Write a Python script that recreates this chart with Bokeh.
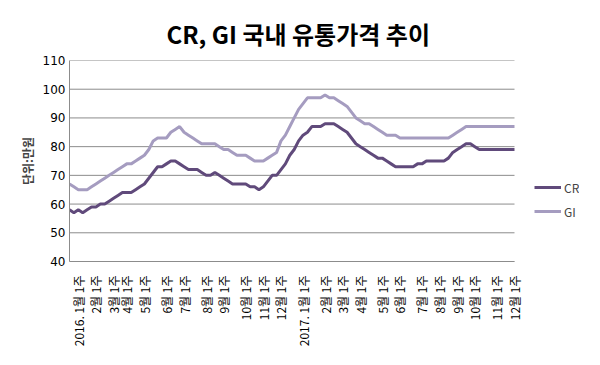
import math
from bokeh.plotting import figure
from bokeh.models import Range1d, FixedTicker, Legend, LegendItem
from bokeh.embed import file_html
from bokeh.resources import INLINE

# weekly data (index 0 = late Dec 2015 ... 101 = Dec 2017 wk1)
cr = [58, 57, 58, 57, 58, 59, 59, 60, 60, 61, 62, 63, 64, 64, 64, 65, 66, 67, 69, 71,
      73, 73, 74, 75, 75, 74, 73, 72, 72, 72, 71, 70, 70, 71, 70, 69, 68, 67, 67, 67,
      67, 66, 66, 65, 66, 68, 70, 70, 72, 74, 77, 79, 82, 84, 85, 87, 87, 87, 88, 88,
      88, 87, 86, 85, 83, 81, 80, 79, 78, 77, 76, 76, 75, 74, 73, 73, 73, 73, 73, 74,
      74, 75, 75, 75, 75, 75, 76, 78, 79, 80, 81, 81, 80, 79, 79, 79, 79, 79, 79, 79,
      79, 79]
gi = [67, 66, 65, 65, 65, 66, 67, 68, 69, 70, 71, 72, 73, 74, 74, 75, 76, 77, 79, 82,
      83, 83, 83, 85, 86, 87, 85, 84, 83, 82, 81, 81, 81, 81, 80, 79, 79, 78, 77, 77,
      77, 76, 75, 75, 75, 76, 77, 78, 82, 84, 87, 90, 93, 95, 97, 97, 97, 97, 98, 97,
      97, 96, 95, 94, 92, 90, 89, 88, 88, 87, 86, 85, 84, 84, 84, 83, 83, 83, 83, 83,
      83, 83, 83, 83, 83, 83, 83, 84, 85, 86, 87, 87, 87, 87, 87, 87, 87, 87, 87, 87,
      87, 87]
weeks = list(range(len(cr)))

tick_pos = [2, 6, 10, 13, 17, 22, 26, 31, 35, 40, 44, 48,
            53, 58, 62, 66, 71, 75, 80, 84, 88, 92, 97, 101]
tick_labels = ["2016. 1월 1주", "2월 1주", "3월 1주", "4월 1주", "5월 1주", "6월 1주",
               "7월 1주", "8월 1주", "9월 1주", "10월 1주", "11월 1주", "12월 1주",
               "2017. 1월 1주", "2월 1주", "3월 1주", "4월 1주", "5월 1주", "6월 1주",
               "7월 1주", "8월 1주", "9월 1주", "10월 1주", "11월 1주", "12월 1주"]
y_ticks = [40, 50, 60, 70, 80, 90, 100, 110]

FONT = "Noto Sans CJK KR"

# layout (pixels): plot area for the data, plus extra room on the right for the legend
W, H = 584, 349
LEFT, TOP, BOTTOM, RIGHT_PAD = 69, 60, 87, 5
DATA_W = 445
frame_w = W - LEFT - RIGHT_PAD
x_end = weeks[-1] * frame_w / DATA_W

p = figure(width=W, height=H, output_backend="svg", toolbar_location=None,
           x_range=Range1d(weeks[0], x_end), y_range=Range1d(y_ticks[0], y_ticks[-1]),
           min_border_left=LEFT, min_border_right=RIGHT_PAD, min_border_top=TOP,
           min_border_bottom=BOTTOM, title="CR, GI 국내 유통가격 추이")

p.title.align = "left"
p.title.offset = 97
p.title.standoff = 20
p.title.text_font = FONT
p.title.text_font_size = "24px"
p.title.text_font_style = "bold"
p.title.text_color = "#000000"

p.outline_line_color = None
p.xgrid.visible = False
p.ygrid.visible = False
p.segment(x0=weeks[0], x1=weeks[-1], y0=y_ticks, y1=y_ticks,
          line_color="#8c8c8c", line_width=1, level="underlay")

p.yaxis.ticker = FixedTicker(ticks=y_ticks)
p.yaxis.axis_label = "단위:만원"
p.yaxis.axis_label_text_font = FONT
p.yaxis.axis_label_text_font_style = "bold"
p.yaxis.axis_label_text_font_size = "12px"
p.yaxis.axis_label_standoff = 4
p.yaxis.major_label_text_font = "DejaVu Sans"
p.yaxis.major_label_text_font_size = "12px"
p.yaxis.major_label_standoff = 4

p.xaxis.ticker = FixedTicker(ticks=tick_pos)
p.xaxis.bounds = (weeks[0], weeks[-1])
p.xaxis.major_label_overrides = {pos: lab for pos, lab in zip(tick_pos, tick_labels)}
p.xaxis.major_label_orientation = math.pi / 2
p.xaxis.major_label_text_font = FONT
p.xaxis.major_label_text_font_size = "12px"
p.xaxis.major_label_standoff = 14

for ax in (p.xaxis[0], p.yaxis[0]):
    ax.axis_line_color = "#8c8c8c"
    ax.major_tick_in = 0
    ax.major_tick_out = 0
    ax.minor_tick_in = 0
    ax.minor_tick_out = 0
    ax.major_label_text_color = "#000000"

r1 = p.line(weeks, cr, line_color="#604A7B", line_width=3)
r2 = p.line(weeks, gi, line_color="#A59CC0", line_width=3)

legend = Legend(items=[LegendItem(label="CR", renderers=[r1]),
                       LegendItem(label="GI", renderers=[r2])],
                location=(465, 40), padding=0, margin=0, spacing=4,
                glyph_width=27, glyph_height=20, label_standoff=3,
                label_text_font=FONT, label_text_font_size="12px",
                background_fill_alpha=0, border_line_alpha=0)
p.add_layout(legend)

open("out.html", "w").write(file_html(p, INLINE))
